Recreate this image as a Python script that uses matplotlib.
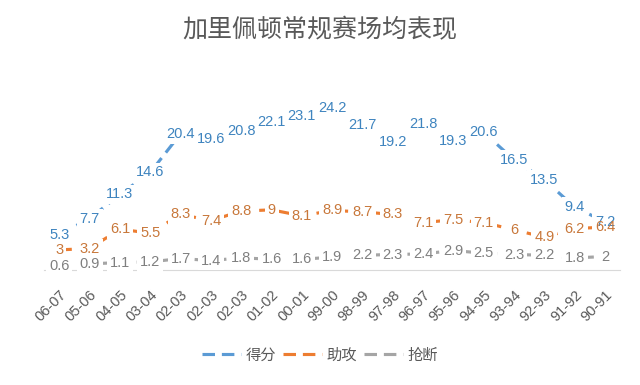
import matplotlib
matplotlib.use('Agg')
import matplotlib.pyplot as plt

plt.rcParams['font.family'] = ['Liberation Sans', 'Noto Sans CJK SC', 'DejaVu Sans']

# 赛季（从近到远）
seasons = ['06-07', '05-06', '04-05', '03-04', '02-03', '02-03', '02-03', '01-02', '00-01',
           '99-00', '98-99', '97-98', '96-97', '95-96', '94-95', '93-94', '92-93', '91-92', '90-91']
defen = [5.3, 7.7, 11.3, 14.6, 20.4, 19.6, 20.8, 22.1, 23.1, 24.2,
         21.7, 19.2, 21.8, 19.3, 20.6, 16.5, 13.5, 9.4, 7.2]
zhugong = [3, 3.2, 6.1, 5.5, 8.3, 7.4, 8.8, 9, 8.1, 8.9,
           8.7, 8.3, 7.1, 7.5, 7.1, 6, 4.9, 6.2, 6.4]
qiangduan = [0.6, 0.9, 1.1, 1.2, 1.7, 1.4, 1.8, 1.6, 1.6, 1.9,
             2.2, 2.3, 2.4, 2.9, 2.5, 2.3, 2.2, 1.8, 2]

serier = [
    ('得分', defen, '#5B9BD5', '#3E84BF'),
    ('助攻', zhugong, '#ED7D31', '#C8773A'),
    ('抢断', qiangduan, '#A5A5A5', '#7F7F7F'),
]

fig = plt.figure(figsize=(6.4, 3.85), dpi=100)
ax = fig.add_axes([0.069, 0.299, 0.90, 0.52])

x = list(range(len(seasons)))
for navn, verdier, farge, tekstfarge in serier:
    ax.plot(x, verdier, color=farge, lw=2.25, linestyle=(0, (4, 2.2)), label=navn, zorder=2)
    for xi, v in zip(x, verdier):
        # hvit boks under teksten skjuler linja, teksten selv ligger over alle boksene
        ax.text(xi, v, f'{v:g}', ha='center', va='center', fontsize=10.5, color='none',
                zorder=2.5, bbox=dict(boxstyle='square,pad=0.2', fc='white', ec='none'))
        ax.text(xi, v, f'{v:g}', ha='center', va='center', fontsize=10.5, color=tekstfarge,
                zorder=3)

ax.set_xlim(-0.5, len(seasons) - 0.5)
ax.set_ylim(0, 30)
ax.set_yticks([])
ax.set_xticks(x)
ax.set_xticklabels(seasons, rotation=45, ha='right', rotation_mode='anchor',
                   fontsize=10.5, color='#595959')
ax.tick_params(axis='x', length=0, pad=13)
for side in ['left', 'right', 'top']:
    ax.spines[side].set_visible(False)
ax.spines['bottom'].set_color('#D9D9D9')
ax.spines['bottom'].set_zorder(1)

fig.suptitle('加里佩顿常规赛场均表现', y=0.922, va='center', fontsize=18, color='#595959',
             family=['Noto Sans CJK SC', 'DejaVu Sans'], fontweight='light')

fig.legend(loc='center', bbox_to_anchor=(0.5, 0.078), ncol=3, frameon=False,
           labelcolor='#595959', handlelength=2.6, columnspacing=0.4,
           handletextpad=0.3, prop={'family': ['Noto Sans CJK SC', 'DejaVu Sans'], 'size': 11})

fig.savefig('out.png', dpi=100, facecolor='white')
